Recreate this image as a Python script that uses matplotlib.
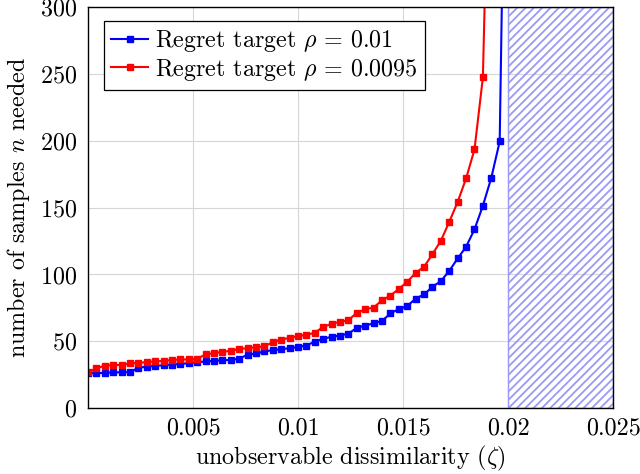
import numpy as np
import matplotlib
matplotlib.use("Agg")
import matplotlib.pyplot as plt
from matplotlib.patches import Rectangle

plt.rcParams['font.family'] = 'serif'
plt.rcParams['font.serif'] = ['cmr10']
plt.rcParams['mathtext.fontset'] = 'cm'
plt.rcParams['axes.formatter.use_mathtext'] = True
plt.rcParams['font.size'] = 17.3
plt.rcParams['hatch.linewidth'] = 1.3

zeta = [0.0, 0.0004, 0.0008, 0.0012, 0.0016, 0.002, 0.0024, 0.0028, 0.0032, 0.0036,
        0.004, 0.0044, 0.0048, 0.0052, 0.0056, 0.006, 0.0064, 0.0068, 0.0072, 0.0076,
        0.008, 0.0084, 0.0088, 0.0092, 0.0096, 0.01, 0.0104, 0.0108, 0.0112, 0.0116,
        0.012, 0.0124, 0.0128, 0.0132, 0.0136, 0.014, 0.0144, 0.0148, 0.0152, 0.0156,
        0.016, 0.0164, 0.0168, 0.0172, 0.0176, 0.018, 0.0184, 0.0188, 0.0192, 0.0196,
        0.02]

# rho = 0.01 (last point is off the top of the axes)
n_blue = [26.4, 26.0, 26.4, 26.7, 26.8, 27.0, 30.2, 31.0, 31.6, 32.0,
          32.6, 33.0, 33.6, 34.3, 34.9, 35.4, 35.8, 36.0, 37.0, 40.0,
          40.9, 42.4, 43.4, 44.0, 44.9, 45.8, 46.8, 49.8, 51.8, 53.4,
          54.3, 55.8, 60.0, 61.8, 63.4, 65.3, 70.8, 74.2, 76.3, 82.0,
          85.0, 90.8, 95.0, 102.7, 112.0, 120.7, 133.7, 151.4, 172.3, 199.5,
          600.0]

# rho = 0.0095
n_red = [26.8, 29.9, 31.7, 32.2, 32.3, 33.4, 33.9, 34.4, 34.9, 35.4,
         35.9, 36.4, 36.5, 36.9, 40.2, 41.1, 42.1, 42.9, 44.2, 44.9,
         45.5, 46.2, 49.4, 51.2, 52.6, 53.9, 54.8, 56.4, 60.8, 63.1,
         64.6, 65.7, 71.4, 74.0, 75.2, 80.8, 84.2, 89.2, 94.5, 101.2,
         105.7, 115.2, 125.2, 139.4, 154.3, 171.8, 193.5, 247.4, 510.0]

xticks = [0.005, 0.01, 0.015, 0.02, 0.025]
xtick_labels = ["0.005", "0.01", "0.015", "0.02", "0.025"]
yticks = [0, 50, 100, 150, 200, 250, 300]

fig = plt.figure(figsize=(6.4, 4.74), dpi=100)
ax = fig.add_axes([0.1375, 0.139, 0.8205, 0.846])

# infeasible region
ax.add_patch(Rectangle((0.02, 0), 0.005, 300, facecolor='none', edgecolor='#9a9af4',
                       hatch='////', linewidth=1.0, zorder=1))

ax.plot(zeta[:len(n_blue)], n_blue, color='blue', marker='s', markersize=3.8,
        linewidth=1.5, label=r"Regret target $\rho \,=\, 0.01$", zorder=3)
ax.plot(zeta[:len(n_red)], n_red, color='red', marker='s', markersize=3.8,
        linewidth=1.5, label=r"Regret target $\rho \,=\, 0.0095$", zorder=3)

ax.set_xlim(0, 0.025)
ax.set_ylim(0, 300)
ax.set_xticks(xticks)
ax.set_xticklabels(xtick_labels)
ax.set_yticks(yticks)
ax.tick_params(axis='x', direction='in', length=0, pad=7)
ax.tick_params(axis='y', direction='in', length=0, pad=8)
ax.grid(True, color='#d6d6d6', linewidth=0.8)
ax.set_axisbelow(True)
for s in ax.spines.values():
    s.set_linewidth(1.0)
    s.set_zorder(4)

ax.set_xlabel(r"unobservable dissimilarity ($\zeta$)", labelpad=3)
ax.set_ylabel(r"number of samples $n$ needed", labelpad=6)

leg = ax.legend(loc='upper left', bbox_to_anchor=(0.03, 0.965), fancybox=False,
                edgecolor='black', framealpha=1, handlelength=1.55,
                borderpad=0.3, labelspacing=0.1, handletextpad=0.3, borderaxespad=0)
leg.get_frame().set_linewidth(0.9)

fig.savefig("out.png", dpi=100)
